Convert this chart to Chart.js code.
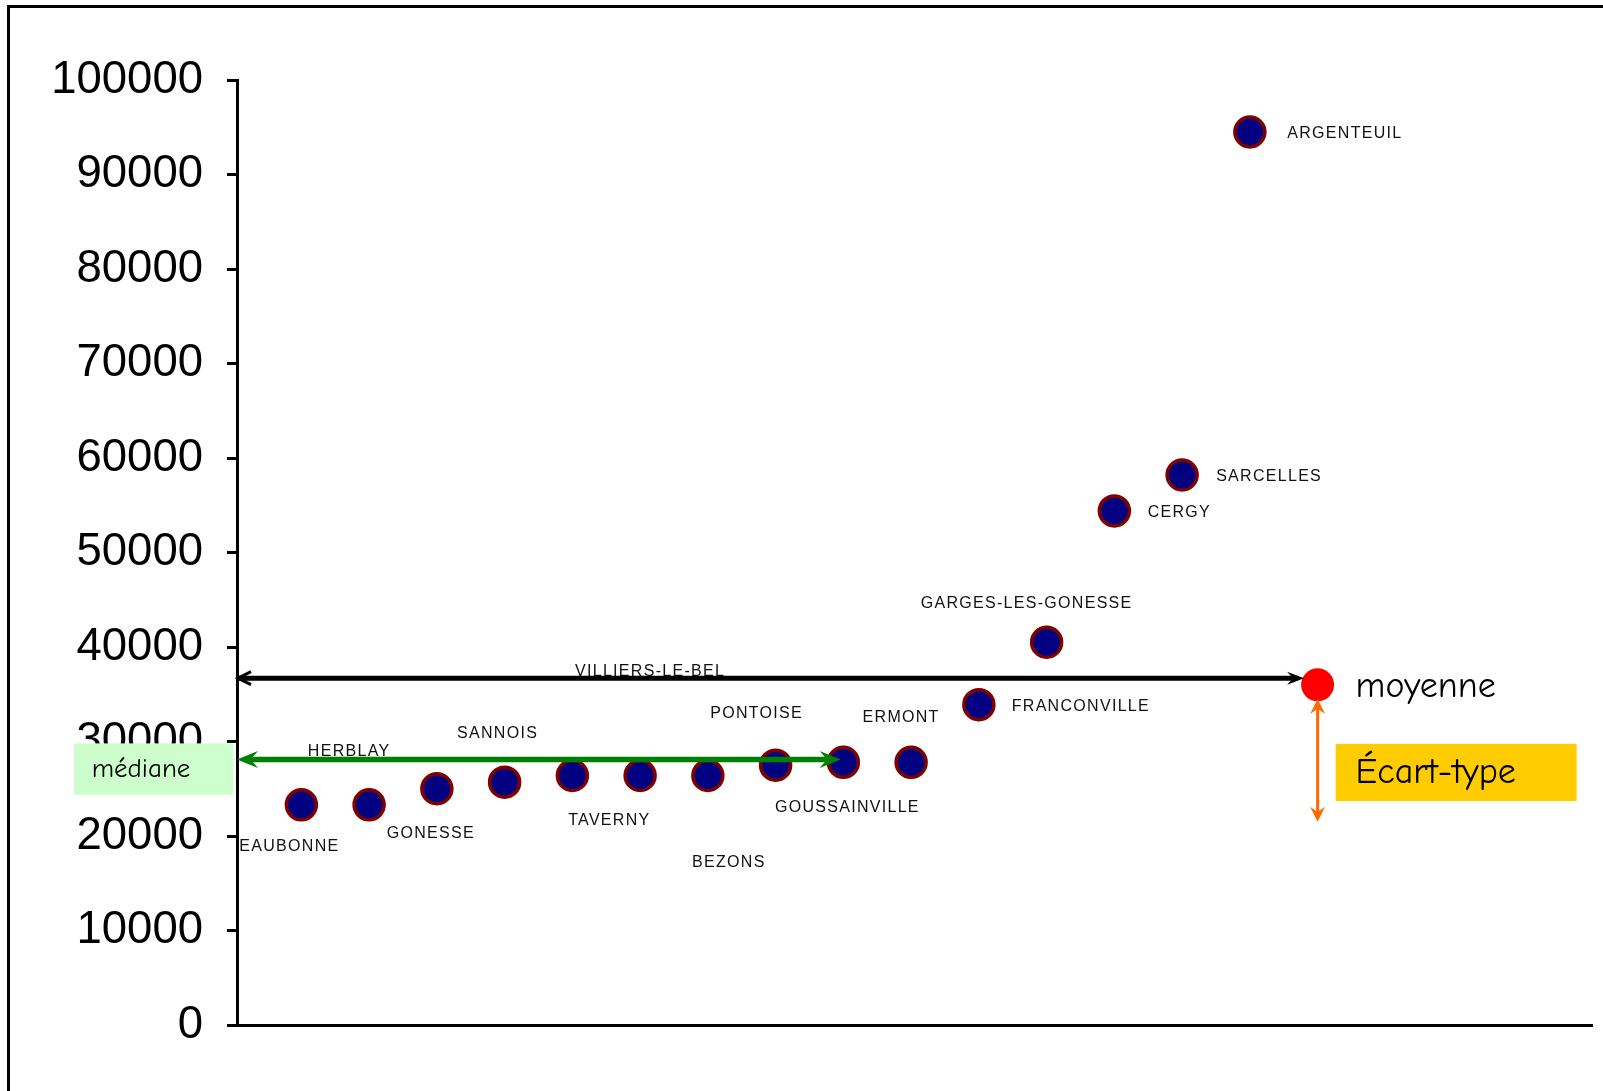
<!DOCTYPE html>
<html lang="fr">
<head>
<meta charset="utf-8">
<title>Population des communes</title>
<script src="https://cdn.jsdelivr.net/npm/chart.js@4.4.0/dist/chart.umd.min.js"></script>
<style>
  html, body { margin: 0; padding: 0; background: #fff; }
  canvas { display: block; }
</style>
</head>
<body>
<canvas id="graphique" width="1603" height="1091"></canvas>
<script>
// communes classées par population
const villes = ['EAUBONNE', 'HERBLAY', 'GONESSE', 'SANNOIS', 'TAVERNY', 'VILLIERS-LE-BEL', 'BEZONS',
  'PONTOISE', 'GOUSSAINVILLE', 'ERMONT', 'FRANCONVILLE', 'GARGES-LES-GONESSE', 'CERGY', 'SARCELLES', 'ARGENTEUIL'];
const rangs = [1, 2, 3, 4, 5, 6, 7, 8, 9, 10, 11, 12, 13, 14, 15];
const habitants = [23300, 23300, 25000, 25700, 26400, 26400, 26400, 27500, 27800, 27800, 33900, 40500, 54400, 58200, 94500];

// moyenne, médiane, écart-type
const moyenne = { x: 16, y: 36000 };
const flecheMoyenne = { y: 36700, debut: 0.05, fin: 15.8 };
const flecheMediane = { y: 28100, debut: 0.05, fin: 8.96 };
const ecartType = { x: 16, haut: 34500, bas: 21500 };

// position des étiquettes (décalage en pixels par rapport au point)
const decalages = [[-12, 42], [-20, -53], [-6, 45], [-7, -49], [37, 45], [10, -104], [21, 87],
  [-19, -52], [4, 45], [-10, -45], [102, 2], [-20, -39], [65, 2], [87, 2], [95, 2]];

const comic = '"Comic Sans MS", "Comic Neue", "DejaVu Sans", sans-serif';

function pointe(ctx, x, y, angle, len, larg, ouverte) {
  ctx.save();
  ctx.translate(x, y);
  ctx.rotate(angle);
  ctx.beginPath();
  if (ouverte) {
    ctx.moveTo(-len, -larg / 2);
    ctx.lineTo(0, 0);
    ctx.lineTo(-len, larg / 2);
    ctx.stroke();
  } else {
    ctx.moveTo(0, 0);
    ctx.lineTo(-len, -larg / 2);
    ctx.lineTo(-len * 0.65, 0);
    ctx.lineTo(-len, larg / 2);
    ctx.closePath();
    ctx.fill();
  }
  ctx.restore();
}

const annotations = {
  id: 'annotations',
  beforeDraw(chart) {
    const ctx = chart.ctx;
    ctx.save();
    ctx.fillStyle = '#000';
    ctx.fillRect(7, 5, chart.width, 3);
    ctx.fillRect(7, 5, 3, chart.height);
    ctx.restore();
  },
  afterDatasetsDraw(chart) {
    const ctx = chart.ctx;
    const xs = chart.scales.x, ys = chart.scales.y;
    const gauche = chart.chartArea.left;

    // étiquettes des communes
    ctx.save();
    ctx.fillStyle = '#111';
    ctx.font = '16px "Liberation Sans", Arial, sans-serif';
    ctx.letterSpacing = '1.3px';
    ctx.textAlign = 'center';
    ctx.textBaseline = 'middle';
    villes.forEach((v, i) => {
      const px = xs.getPixelForValue(rangs[i]) + decalages[i][0];
      const py = ys.getPixelForValue(habitants[i]) + decalages[i][1];
      ctx.fillText(v, px, py);
    });
    ctx.restore();

    // flèche moyenne
    ctx.save();
    let y = ys.getPixelForValue(flecheMoyenne.y);
    let x1 = xs.getPixelForValue(flecheMoyenne.debut), x2 = xs.getPixelForValue(flecheMoyenne.fin);
    ctx.strokeStyle = '#000';
    ctx.fillStyle = '#000';
    ctx.lineWidth = 5;
    ctx.beginPath();
    ctx.moveTo(x1 + 2, y);
    ctx.lineTo(x2 - 6, y);
    ctx.stroke();
    ctx.lineWidth = 3;
    pointe(ctx, x1 + 1, y, Math.PI, 13, 13, true);
    pointe(ctx, x2, y, 0, 17, 13, false);
    ctx.restore();

    // flèche médiane
    ctx.save();
    y = ys.getPixelForValue(flecheMediane.y);
    x1 = xs.getPixelForValue(flecheMediane.debut);
    x2 = xs.getPixelForValue(flecheMediane.fin);
    ctx.strokeStyle = '#008000';
    ctx.fillStyle = '#008000';
    ctx.lineWidth = 5.5;
    ctx.beginPath();
    ctx.moveTo(x1 + 10, y);
    ctx.lineTo(x2 - 10, y);
    ctx.stroke();
    pointe(ctx, x1, y, Math.PI, 21, 17, false);
    pointe(ctx, x2, y, 0, 21, 17, false);
    ctx.restore();

    // flèche écart-type
    ctx.save();
    const xe = xs.getPixelForValue(ecartType.x);
    const yh = ys.getPixelForValue(ecartType.haut), yb = ys.getPixelForValue(ecartType.bas);
    ctx.strokeStyle = '#ff6a00';
    ctx.fillStyle = '#ff6a00';
    ctx.lineWidth = 3;
    ctx.beginPath();
    ctx.moveTo(xe, yh + 8);
    ctx.lineTo(xe, yb - 8);
    ctx.stroke();
    pointe(ctx, xe, yh, -Math.PI / 2, 15, 15, false);
    pointe(ctx, xe, yb, Math.PI / 2, 15, 15, false);
    ctx.restore();

    // boîte médiane
    ctx.save();
    const bH = ys.getPixelForValue(29800), bB = ys.getPixelForValue(24350);
    ctx.fillStyle = '#ccffcc';
    ctx.fillRect(gauche - 163, bH, 159, bB - bH);
    ctx.fillStyle = '#000';
    ctx.font = '27px ' + comic;
    ctx.textAlign = 'center';
    ctx.textBaseline = 'middle';
    ctx.fillText('médiane', gauche - 96, (bH + bB) / 2);
    ctx.restore();

    // moyenne et écart-type
    ctx.save();
    const xm = xs.getPixelForValue(moyenne.x);
    ctx.fillStyle = '#000';
    ctx.font = '36px ' + comic;
    ctx.textBaseline = 'middle';
    ctx.fillText('moyenne', xm + 38, ys.getPixelForValue(moyenne.y) + 2);
    const eH = ys.getPixelForValue(29750), eB = ys.getPixelForValue(23700);
    ctx.fillStyle = '#ffcc00';
    ctx.fillRect(xm + 18, eH, 241, eB - eH);
    ctx.fillStyle = '#000';
    ctx.font = '36px ' + comic;
    ctx.fillText('Écart-type', xm + 38, (eH + eB) / 2);
    ctx.restore();
  }
};

new Chart(document.getElementById('graphique'), {
  type: 'scatter',
  data: {
    datasets: [
      {
        label: 'Population',
        data: rangs.map((r, i) => ({ x: r, y: habitants[i] })),
        backgroundColor: '#000080',
        borderColor: '#800000',
        borderWidth: 3.5,
        pointRadius: 15,
        clip: false
      },
      {
        label: 'moyenne',
        data: [moyenne],
        backgroundColor: '#ff0000',
        borderColor: '#ff0000',
        borderWidth: 0,
        pointRadius: 16.5,
        clip: false
      }
    ]
  },
  options: {
    responsive: false,
    animation: false,
    layout: { autoPadding: false, padding: { top: 80, right: 11, bottom: 66, left: 0 } },
    plugins: {
      legend: { display: false },
      tooltip: { enabled: false }
    },
    scales: {
      x: {
        type: 'linear',
        min: 0.05,
        max: 20.05,
        ticks: { display: false },
        grid: { display: false },
        border: { display: true, color: '#000', width: 3 },
        afterFit(scale) { scale.height = 0; }
      },
      y: {
        min: 0,
        max: 100000,
        ticks: {
          stepSize: 10000,
          padding: 24,
          color: '#000',
          font: { family: '"Liberation Sans", Arial, sans-serif', size: 45.5 },
          callback: v => String(v)
        },
        grid: { drawOnChartArea: false, drawTicks: true, tickLength: 10, color: '#000', lineWidth: 3 },
        border: { display: true, color: '#000', width: 3 },
        afterFit(scale) { scale.width = 237; }
      }
    }
  },
  plugins: [annotations]
});
</script>
</body>
</html>
